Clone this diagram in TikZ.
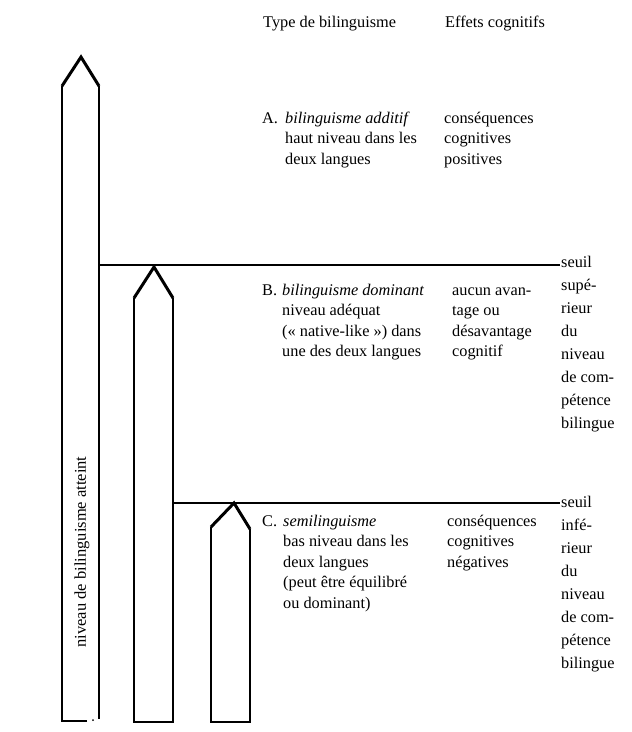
\documentclass[tikz,border=0pt]{standalone}
\usepackage{fontspec}
\setmainfont{Liberation Serif}
\begin{document}
\begin{tikzpicture}[x=1pt,y=-1pt,
  txt/.style={anchor=base west, inner sep=0pt, font=\fontsize{16.3}{20.5}\selectfont, align=left},
  rtxt/.style={anchor=base west, inner sep=0pt, font=\fontsize{16.3}{23}\selectfont, align=left},
  colline/.style={line width=1.2pt},
  chev/.style={line width=3pt, line join=miter}]
\useasboundingbox (0,0) rectangle (632,732);
% columns
\coordinate (c1bl) at (62,721); \coordinate (c1sl) at (62,86); \coordinate (c1t) at (81,57);
\coordinate (c1sr) at (99,86); \coordinate (c1br) at (99,719); \coordinate (c1be) at (87,721);
\draw[colline] (c1be) -- (c1bl) -- (c1sl);
\draw[colline] (c1sr) -- (c1br);
\fill (93,720) circle (1pt);
\draw[chev] (c1sl) -- (c1t) -- (c1sr);
\coordinate (c2bl) at (134,722); \coordinate (c2sl) at (134,298); \coordinate (c2t) at (154,267);
\coordinate (c2sr) at (173,298); \coordinate (c2br) at (173,722);
\draw[colline] (c2sl) -- (c2bl) -- (c2br) -- (c2sr);
\draw[chev] (c2sl) -- (c2t) -- (c2sr);
\coordinate (c3bl) at (211,722); \coordinate (c3sl) at (211,527); \coordinate (c3t) at (234,503);
\coordinate (c3sr) at (250,529); \coordinate (c3br) at (250,722);
\draw[colline] (c3sl) -- (c3bl) -- (c3br) -- (c3sr);
\draw[chev] (c3sl) -- (c3t) -- (c3sr);
% thresholds
\coordinate (u0) at (99,265); \coordinate (u1) at (560,265);
\coordinate (l0) at (173,503); \coordinate (l1) at (560,503);
\draw[line width=1.2pt] (u0) -- (u1);
\draw[line width=1.2pt] (l0) -- (l1);
% headers
\node[txt] (h1) at (263,27) {Type de bilinguisme};
\node[txt] (h2) at (445,27) {Effets cognitifs};
% A (base anchor = last line baseline)
\node[txt] (la) at (262,123) {A.};
\node[txt] (ta) at (285,164) {\textit{bilinguisme additif}\\haut niveau dans les\\deux langues};
\node[txt] (ea) at (444,164) {conséquences\\cognitives\\positives};
% B
\node[txt] (lb) at (262,295) {B.};
\node[txt] (tb) at (282,356.5) {\textit{bilinguisme dominant}\\niveau adéquat\\(« native-like ») dans\\une des deux langues};
\node[txt] (eb) at (452,356.5) {aucun avan-\\tage ou\\désavantage\\cognitif};
% C
\node[txt] (lc) at (262,526) {C.};
\node[txt] (tc) at (283,608) {\textit{semilinguisme}\\bas niveau dans les\\deux langues\\(peut être équilibré\\ou dominant)};
\node[txt] (ec) at (447,567) {conséquences\\cognitives\\négatives};
% right column
\node[rtxt] (su) at (561,428) {seuil\\supé-\\rieur\\du\\niveau\\de com-\\pétence\\bilingue};
\node[rtxt] (sl) at (561,668) {seuil\\infé-\\rieur\\du\\niveau\\de com-\\pétence\\bilingue};
% vertical label
\node[inner sep=0pt, rotate=90, font=\fontsize{16.5}{20}\selectfont] (vl) at (82,552) {niveau de bilinguisme atteint};
\end{tikzpicture}
\end{document}
